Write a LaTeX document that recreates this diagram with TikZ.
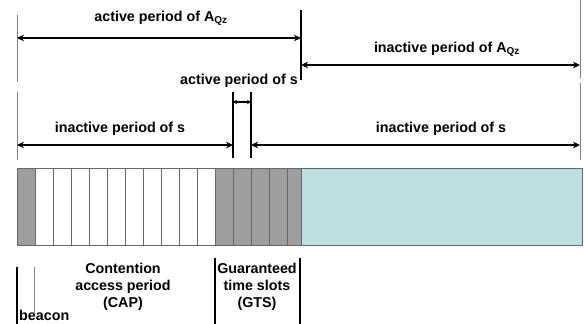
\documentclass[tikz,border=0pt]{standalone}
\usepackage{fontspec}
\setmainfont{Liberation Sans}
\usetikzlibrary{arrows.meta}
\definecolor{slotgray}{RGB}{158,158,158}
\definecolor{idlecyan}{RGB}{186,224,226}

\begin{document}
\begin{tikzpicture}
[x=1pt,y=-1pt,
every node/.style={font=\bfseries\fontsize{14.3}{17}\selectfont,inner sep=0pt,align=center},
span/.style={{Stealth[length=7pt,width=6.5pt]}-{Stealth[length=7pt,width=6.5pt]},line width=1.8pt},
tiny span/.style={{Stealth[length=4pt,width=4.5pt]}-{Stealth[length=4pt,width=4.5pt]},line width=1.4pt},
bound/.style={line width=2pt},
guide/.style={gray,line width=0.8pt},
slot/.style={draw=gray!80!black,line width=0.6pt}]

\useasboundingbox (0,0) rectangle (584,324);

% superframe bar
\draw[slot,fill=slotgray] (17,168) rectangle (35,245);
\foreach \i in {0,...,9}
	\draw[slot,fill=white] ({35+18*\i},168) rectangle ++(18,77);
\foreach \x/\w in {215/18,233/18,251/18,269/18,287/14}
	\draw[slot,fill=slotgray] (\x,168) rectangle ++(\w,77);
\draw[slot,fill=idlecyan] (301,168) rectangle (582,245);

% boundary marks
\coordinate (l1) at (17,15);   \coordinate (l2) at (17,82);
\coordinate (l3) at (17,92);   \coordinate (l4) at (17,160);
\coordinate (r1) at (580,0);   \coordinate (r2) at (580,78);
\coordinate (r3) at (580,83);  \coordinate (r4) at (580,160);
\coordinate (q1) at (301,10);  \coordinate (q2) at (301,80);
\coordinate (s1) at (233,92);  \coordinate (s2) at (233,158);
\coordinate (t1) at (251,92);  \coordinate (t2) at (251,158);
\draw[guide] (l1) -- (l2) (l3) -- (l4) (r1) -- (r2) (r3) -- (r4);
\draw[bound] (q1) -- (q2) (s1) -- (s2) (t1) -- (t2);

% periods
\coordinate (aL) at (17,38);   \coordinate (aR) at (301,38);
\coordinate (iL) at (301,65);  \coordinate (iR) at (580,65);
\coordinate (sL) at (233,102); \coordinate (sR) at (251,102);
\coordinate (uL) at (17,145);  \coordinate (uR) at (233,145);
\coordinate (vL) at (251,145); \coordinate (vR) at (580,145);
\draw[span] (aL) -- (aR);
\draw[span] (iL) -- (iR);
\draw[tiny span] (sL) -- (sR);
\draw[span] (uL) -- (uR);
\draw[span] (vL) -- (vR);

\node (aqzAct) at (161,18) {active period of A\textsubscript{Qz}};
\node (aqzIdle) at (447,49) {inactive period of A\textsubscript{Qz}};
\node (sAct) at (239,81) {active period of s};
\node (sIdleL) at (120,129) {inactive period of s};
\node (sIdleR) at (441,129) {inactive period of s};

% bottom marks
\coordinate (b1) at (17,267);  \coordinate (b2) at (17,324);
\coordinate (c1) at (34,267);  \coordinate (c2) at (34,313);
\coordinate (g1) at (215,258); \coordinate (g2) at (215,324);
\coordinate (h1) at (300,258); \coordinate (h2) at (300,324);
\draw[bound] (b1) -- (b2) (g1) -- (g2) (h1) -- (h2);
\draw[guide] (c1) -- (c2);

\node (cap) at (123,287) {Contention\\access period\\(CAP)};
\node (gts) at (257,287) {Guaranteed\\time slots\\(GTS)};
\node[anchor=base west] (beacon) at (19,320) {beacon};
\end{tikzpicture}
\end{document}
